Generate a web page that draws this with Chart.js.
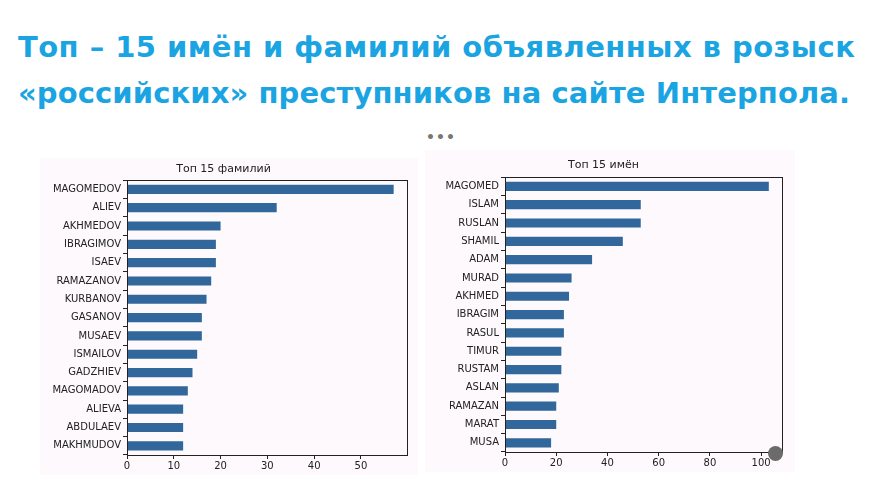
<!DOCTYPE html>
<html lang="ru">
<head>
<meta charset="utf-8">
<script src="https://cdn.jsdelivr.net/npm/chart.js@4/dist/chart.umd.min.js"></script>
<style>
  html, body { margin: 0; padding: 0; background: #fff; }
  body { width: 885px; height: 489px; position: relative; overflow: hidden; }
  .headline {
    position: absolute; left: 18px; text-align: left;
    font-family: "DejaVu Sans", sans-serif; font-weight: bold; font-size: 29px;
    color: #1ba4e2; white-space: nowrap;
  }
  .panel { position: absolute; background: #fdf9fd; }
  .dots { position: absolute; left: 426px; top: 129px; font: bold 14px "DejaVu Sans", sans-serif; color: #777; letter-spacing: 1px; }
  .blob { position: absolute; left: 768px; top: 446px; width: 15px; height: 15px; border-radius: 50%; background: #6b6b6b; }
</style>
</head>
<body>
<div class="headline" style="top:30px; letter-spacing:0.45px">Топ – 15 имён и фамилий объявленных в розыск</div>
<div class="headline" style="top:76px; letter-spacing:0.1px">«российских» преступников на сайте Интерпола.</div>

<div class="panel" style="left:40px; top:158px; width:378px; height:317px;">
  <canvas id="surnamesChart"></canvas>
</div>
<div class="panel" style="left:425px; top:150px; width:370px; height:322px;">
  <canvas id="namesChart"></canvas>
</div>
<div class="dots">•••</div>
<div class="blob"></div>

<script>
const surnames = ['MAGOMEDOV', 'ALIEV', 'AKHMEDOV', 'IBRAGIMOV', 'ISAEV', 'RAMAZANOV', 'KURBANOV', 'GASANOV',
  'MUSAEV', 'ISMAILOV', 'GADZHIEV', 'MAGOMADOV', 'ALIEVA', 'ABDULAEV', 'MAKHMUDOV'];
const surnameCounts = [57, 32, 20, 19, 19, 18, 17, 16, 16, 15, 14, 13, 12, 12, 12];

const names = ['MAGOMED', 'ISLAM', 'RUSLAN', 'SHAMIL', 'ADAM', 'MURAD', 'AKHMED', 'IBRAGIM',
  'RASUL', 'TIMUR', 'RUSTAM', 'ASLAN', 'RAMAZAN', 'MARAT', 'MUSA'];
const nameCounts = [103, 53, 53, 46, 34, 26, 25, 23, 23, 22, 22, 21, 20, 20, 18];

const surnameTicks = [0, 10, 20, 30, 40, 50];
const nameTicks = [0, 20, 40, 60, 80, 100];

const ink = '#222';
const barColor = '#31679a';

// matplotlib-style frame on all four sides
const frame = {
  id: 'frame',
  afterDraw(chart) {
    const a = chart.chartArea, ctx = chart.ctx;
    ctx.save();
    ctx.strokeStyle = ink;
    ctx.lineWidth = 1;
    ctx.strokeRect(Math.round(a.left) + 0.5, Math.round(a.top) + 0.5,
      Math.round(a.right - a.left), Math.round(a.bottom - a.top));
    ctx.restore();
  }
};

function makeChart(id, labels, values, ticks, title, opts) {
  return new Chart(document.getElementById(id), {
    type: 'bar',
    data: {
      labels: labels,
      datasets: [{
        data: values,
        backgroundColor: barColor,
        barPercentage: 0.5,
        categoryPercentage: 1.0,
        borderWidth: 0
      }]
    },
    options: {
      indexAxis: 'y',
      responsive: true,
      maintainAspectRatio: false,
      animation: false,
      layout: { padding: { left: 0, right: opts.rightPad, top: 0, bottom: 0 } },
      plugins: {
        legend: { display: false },
        tooltip: { enabled: false },
        title: {
          display: true,
          text: title,
          color: ink,
          font: { family: 'DejaVu Sans', size: 11, weight: 'normal' },
          padding: { top: opts.titleTop, bottom: opts.titleBottom }
        }
      },
      scales: {
        x: {
          min: 0,
          max: opts.xMax,
          afterBuildTicks: s => { s.ticks = ticks.map(v => ({ value: v })); },
          afterFit: s => { s.height = 20; },
          grid: { drawOnChartArea: false, tickLength: 4, color: ink },
          border: { color: ink },
          ticks: { color: ink, padding: 1, font: { family: 'DejaVu Sans', size: 10 } }
        },
        y: {
          afterFit: s => { s.width = opts.yWidth; },
          grid: { drawOnChartArea: false, tickLength: 4, color: ink },
          border: { color: ink },
          ticks: { color: ink, padding: 2, autoSkip: false, font: { family: 'DejaVu Sans', size: 10 } }
        }
      }
    },
    plugins: [frame]
  });
}

makeChart('surnamesChart', surnames, surnameCounts, surnameTicks, 'Топ 15 фамилий',
  { xMax: 59.85, yWidth: 87, rightPad: 11, titleTop: 5, titleBottom: 4 });
makeChart('namesChart', names, nameCounts, nameTicks, 'Топ 15 имён',
  { xMax: 108.15, yWidth: 80, rightPad: 13, titleTop: 9, titleBottom: 5 });
</script>
</body>
</html>
